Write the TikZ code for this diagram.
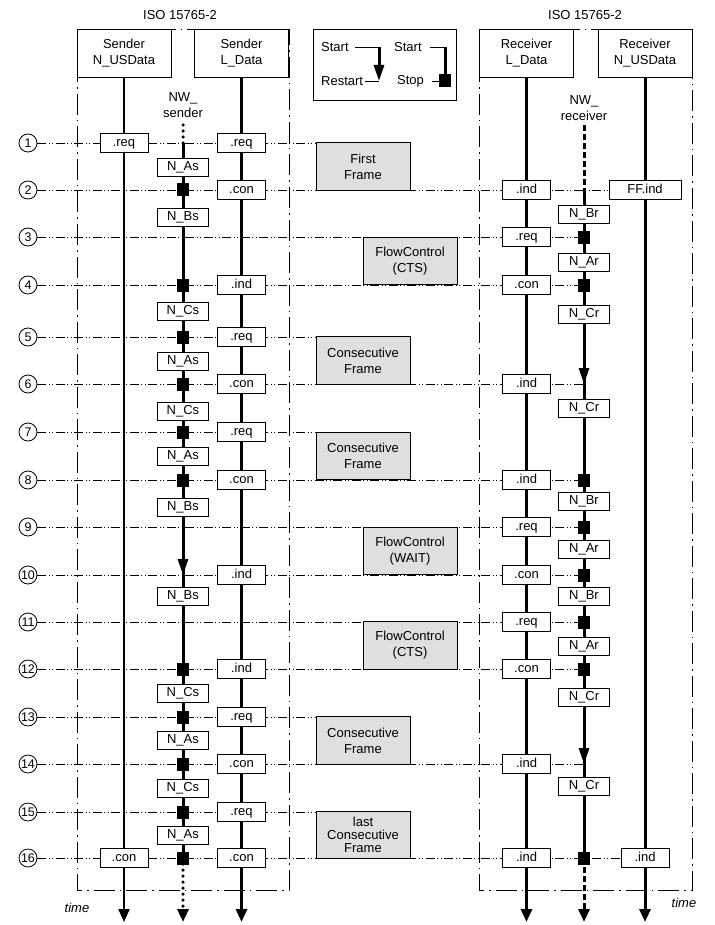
\documentclass[tikz,border=0pt]{standalone}
\usepackage{fontspec}
\setmainfont{Liberation Sans}
\usetikzlibrary{arrows.meta, positioning, calc, backgrounds}

\begin{document}
\begin{tikzpicture}[
    x=1pt, y=-1pt,
    font=\fontsize{13}{16}\selectfont,
    hdr/.style={rectangle, draw, line width=0.9pt, fill=white, minimum width=94pt, minimum height=48pt, align=center, inner sep=0pt},
    msg/.style={rectangle, draw, line width=0.9pt, fill=white, minimum width=48pt, minimum height=19pt, inner sep=0pt, text height=9.4pt, text depth=2.7pt},
    timer/.style={msg, minimum width=51pt, minimum height=18pt},
    pdu/.style={rectangle, draw, line width=0.9pt, fill=gray!25, minimum width=94pt, minimum height=47.5pt, align=center, inner sep=0pt},
    rownum/.style={circle, draw, line width=0.8pt, minimum size=18pt, inner sep=0pt, font=\fontsize{12.5}{12.5}\selectfont},
    stopbox/.style={rectangle, fill=black, minimum width=12pt, minimum height=13pt, inner sep=0pt},
    restartarrow/.style={-{Triangle[width=10pt,length=16pt]}},
    rowline/.style={line width=0.8pt, dash pattern=on 9pt off 2.5pt on 1pt off 2.5pt on 1pt off 2.5pt},
    isoframe/.style={line width=0.8pt, dash pattern=on 21pt off 5pt on 1.5pt off 5pt},
    lifeline/.style={line width=3pt, -{Triangle[width=11pt,length=13pt]}},
    nwline/.style={line width=3pt},
    nwdots/.style={line width=3.5pt, line cap=round, dash pattern=on 0pt off 6pt},
    nwdash/.style={line width=3pt, dash pattern=on 6pt off 3pt}
  ]
  \useasboundingbox (0,0) rectangle (714,925);

  % Frames and headers
  \draw[isoframe] (77,29) rectangle (289,890);
  \draw[isoframe] (479,29) rectangle (692,890);
  \node (iso1) at (180,15) {ISO 15765-2};
  \node (iso2) at (585,15) {ISO 15765-2};
  \node[hdr] (hSU) at (124,53) {Sender\\N\_USData};
  \node[hdr] (hSL) at (241.5,53) {Sender\\L\_Data};
  \node[hdr] (hRL) at (526.5,53) {Receiver\\L\_Data};
  \node[hdr] (hRU) at (645,53) {Receiver\\N\_USData};

  % Legend
  \node[draw, line width=0.9pt, minimum width=143pt, minimum height=71pt, inner sep=0pt] (legend) at (384.5,64.5) {};
  \node[anchor=west, inner sep=0pt] (lgStart1) at (321,47) {Start};
  \node[anchor=west, inner sep=0pt] (lgRestart) at (321,81) {Restart};
  \node[anchor=west, inner sep=0pt] (lgStart2) at (394,47) {Start};
  \node[anchor=west, inner sep=0pt] (lgStop) at (397,81) {Stop};
  \coordinate (lgA) at (379,47);
  \coordinate (lgB) at (379,81);
  \coordinate (lgC) at (445,47);
  \node[stopbox] (lgSq) at (445,81) {};
  \draw[line width=0.8pt, shorten <=6pt] (lgStart1) -- (lgA);
  \draw[nwline, restartarrow] (lgA) -- (lgB);
  \draw[line width=0.8pt, shorten <=2pt] (lgRestart) -- (lgB);
  \draw[line width=0.8pt, shorten <=8pt] (lgStart2) -- (lgC);
  \draw[nwline] (lgC) -- (lgSq);
  \draw[line width=0.8pt, shorten <=8pt] (lgStop) -- (lgSq);

  % Rows
  \foreach \i/\y in {1/143,2/190,3/237,4/285,5/337,6/384,7/432,8/480,9/527,10/575,11/622,12/669,13/717,14/764,15/812,16/858}
    \node[rownum] (r\i) at (28,\y) {\i};

  % Lifelines
  \node[align=center] (lNS) at (183,105) {NW\_\\sender};
  \node[align=center] (lNR) at (584,108) {NW\_\\receiver};
  \coordinate (nS) at (183,125);
  \coordinate (nR) at (584,125);
  \coordinate (bot) at (0,922);
  \draw[lifeline, line width=2pt] (hSU) -- (hSU |- bot);
  \foreach \h in {hSL,hRL,hRU}
    \draw[lifeline] (\h) -- (\h |- bot);
  \draw[nwdots] (nS) -- (nS |- r1);
  \draw[nwline] (nS |- r1) -- (nS |- r16);
  \draw[lifeline, nwdots] (nS |- r16) -- (nS |- bot);
  \draw[nwdash] (nR) -- (nR |- r2);
  \draw[nwline] (nR |- r2) -- (nR |- r16);
  \draw[lifeline, nwdash] (nR |- r16) -- (nR |- bot);

  % Frames on the bus
  \foreach \i/\x/\y/\t in {1/363/166.5/{First\\Frame}, 3/410/261/{FlowControl\\(CTS)}, 5/363/360.5/{Consecutive\\Frame}, 7/363/456/{Consecutive\\Frame}, 9/410/551/{FlowControl\\(WAIT)}, 11/410/645.5/{FlowControl\\(CTS)}, 13/363/740.5/{Consecutive\\Frame}}
    \node[pdu] (f\i) at (\x,\y) {\t};
  \node[pdu, font=\fontsize{13}{13}\selectfont] (f15) at (363,835) {last\\Consecutive\\Frame};

  % Service primitives
  \node[msg] (mSU1) at (r1 -| hSU) {.req};
  \node[msg] (mSU16) at (r16 -| hSU) {.con};
  \foreach \i/\t in {1/.req,2/.con,4/.ind,5/.req,6/.con,7/.req,8/.con,10/.ind,12/.ind,13/.req,14/.con,15/.req,16/.con}
    \node[msg] (mSL\i) at (r\i -| hSL) {\t};
  \foreach \i/\t in {2/.ind,3/.req,4/.con,6/.ind,8/.ind,9/.req,10/.con,11/.req,12/.con,14/.ind,16/.ind}
    \node[msg] (mRL\i) at (r\i -| hRL) {\t};
  \node[msg, minimum width=72pt] (mRU2) at (r2 -| hRU) {FF.ind};
  \node[msg] (mRU16) at (r16 -| hRU) {.ind};

  % Timers
  \foreach \i/\y/\t in {1/167/N\_As,2/217/N\_Bs,4/311/N\_Cs,5/361/N\_As,6/411/N\_Cs,7/456/N\_As,8/507/N\_Bs,10/596/N\_Bs,12/693/N\_Cs,13/740/N\_As,14/788/N\_Cs,15/835/N\_As}
    \node[timer] (tS\i) at (183,\y) {\t};
  \foreach \i/\y/\t in {2/214/N\_Br,3/262/N\_Ar,4/314/N\_Cr,6/408/N\_Cr,8/501/N\_Br,9/549/N\_Ar,10/596/N\_Br,11/646/N\_Ar,12/697/N\_Cr,14/786/N\_Cr}
    \node[timer] (tR\i) at (584,\y) {\t};
  \foreach \i in {2,4,5,6,7,8,12,13,14,15,16}
    \node[stopbox] (xS\i) at (r\i -| nS) {};
  \foreach \i in {3,4,8,9,10,11,12,16}
    \node[stopbox] (xR\i) at (r\i -| nR) {};
  \foreach \i/\n in {10/nS,6/nR,14/nR}
    \draw[nwline, restartarrow] ($(r\i -| \n)+(0,-18)$) -- (r\i -| \n);

  \node[font=\itshape\fontsize{13}{13}\selectfont] (tL) at (77,908) {time};
  \node[font=\itshape\fontsize{13}{13}\selectfont] (tR) at (684,903) {time};

  % Row lines
  \begin{scope}[on background layer]
    \foreach \i/\e in {1/f1,2/hRU,3/nR,4/nR,5/f5,6/nR,7/f7,8/nR,9/nR,10/nR,11/nR,12/nR,13/f13,14/nR,15/f15,16/hRU}
      \draw[rowline] (r\i) -- (r\i -| \e);
  \end{scope}
\end{tikzpicture}
\end{document}
